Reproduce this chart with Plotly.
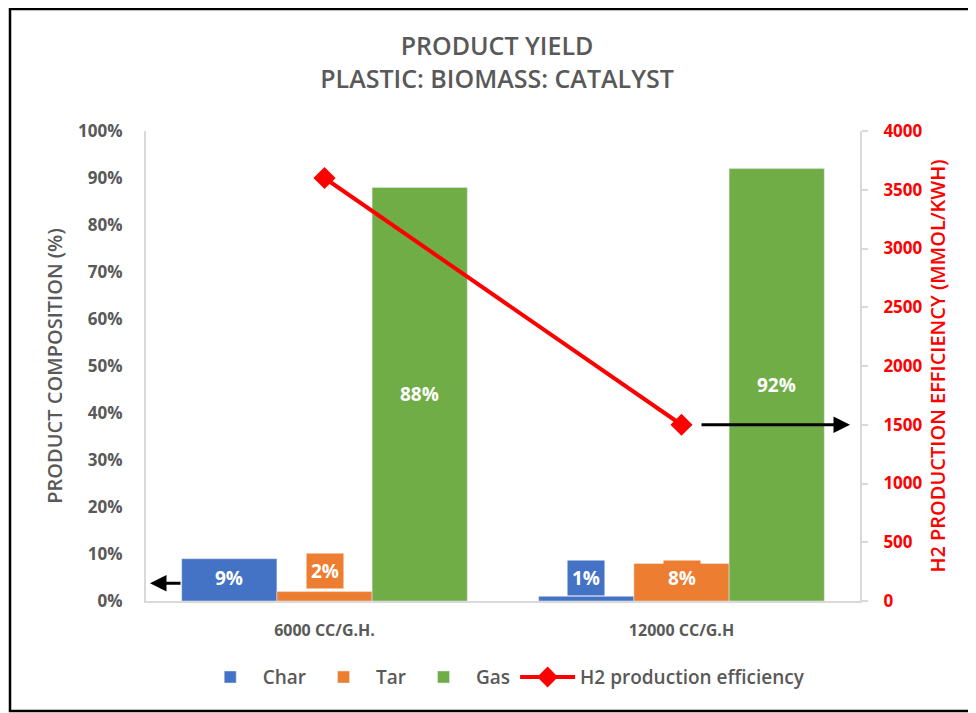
import plotly.graph_objects as go

categories = ["6000 CC/G.H.", "12000 CC/G.H"]
char_pct = [9, 1]
tar_pct = [2, 8]
gas_pct = [88, 92]
h2_eff = [3600, 1500]
pct_ticks = [0, 10, 20, 30, 40, 50, 60, 70, 80, 90, 100]
eff_ticks = [0, 500, 1000, 1500, 2000, 2500, 3000, 3500, 4000]

# label anchor heights (percent axis), as placed in the source chart
char_label_y = [4.9, 4.9]
tar_label_y = [6.4, 4.9]
gas_label_y = [44, 46]

BLUE = "#4472C4"
ORANGE = "#ED7D31"
GREEN = "#70AD47"
RED = "#FF0000"
GRAY = "#595959"
FONT = "Open Sans"

# page body has an 8px margin; the figure is sized to fit the window
W, H = 968, 705
L, R, T, B = 138, 116, 123, 112
pw, ph = W - L - R, H - T - B

fig = go.Figure()
fig.add_bar(x=categories, y=char_pct, name="Char", marker_color=BLUE, yaxis="y")
fig.add_bar(x=categories, y=tar_pct, name="Tar", marker_color=ORANGE, yaxis="y")
fig.add_bar(x=categories, y=gas_pct, name="Gas", marker_color=GREEN, yaxis="y")
fig.add_scatter(x=categories, y=h2_eff, name="H2 production efficiency", yaxis="y2",
                mode="lines+markers", line=dict(color=RED, width=4),
                marker=dict(symbol="diamond", size=17, color=RED))

annotations = []
offsets = [-1, 0, 1]
series = [(char_pct, char_label_y, BLUE), (tar_pct, tar_label_y, ORANGE), (gas_pct, gas_label_y, GREEN)]
bar_w = 0.8 / 3
for si, (vals, ly, col) in enumerate(series):
    for ci, v in enumerate(vals):
        annotations.append(dict(
            x=ci + offsets[si] * bar_w, y=ly[ci], xref="x", yref="y",
            text=f"<b>{v}%</b>", showarrow=False,
            font=dict(family=FONT, size=19, color="white"),
            bgcolor=col, borderpad=4))

# arrows pointing to the axes
annotations.append(dict(x=(142 - L) / pw, y=3.8, xref="paper", yref="y", ax=32, ay=0,
                        axref="pixel", ayref="pixel", text="", showarrow=True,
                        arrowhead=2, arrowsize=1.1, arrowwidth=3, arrowcolor="black"))
annotations.append(dict(x=(842 - L) / pw, y=1500, xref="paper", yref="y2", ax=-150, ay=0,
                        axref="pixel", ayref="pixel", text="", showarrow=True,
                        arrowhead=2, arrowsize=1.1, arrowwidth=3, arrowcolor="black"))

shapes = [dict(type="rect", xref="paper", yref="paper",
               x0=(2 - L) / pw, x1=(962 - L) / pw,
               y0=(H - B - 703) / ph, y1=(H - B - 1) / ph,
               line=dict(color="black", width=2.5), fillcolor="rgba(0,0,0,0)", layer="below")]

fig.update_layout(
    width=W, height=H, autosize=False,
    margin=dict(l=L, r=R, t=T, b=B),
    paper_bgcolor="white", plot_bgcolor="white",
    barmode="group", bargap=0.2, bargroupgap=0,
    title=dict(text="PRODUCT YIELD<br>PLASTIC: BIOMASS: CATALYST",
               x=489 / W, xanchor="center", y=1 - 47 / H, yanchor="top",
               font=dict(family=FONT, size=25, color=GRAY, weight=600)),
    xaxis=dict(showline=True, linecolor="#D9D9D9", linewidth=2, showgrid=False,
               ticks="", ticklabelstandoff=14,
               tickfont=dict(family=FONT, size=16, color=GRAY, weight="bold")),
    yaxis=dict(range=[0, 100], tickvals=pct_ticks, ticktext=[f"{t}%" for t in pct_ticks],
               showline=True, linecolor="#D9D9D9", linewidth=2, showgrid=False, zeroline=False,
               ticks="", ticklabelstandoff=18,
               tickfont=dict(family=FONT, size=17, color=GRAY, weight="bold"),
               title=dict(text="PRODUCT COMPOSITION (%)", standoff=10,
                          font=dict(family=FONT, size=20, color=GRAY, weight=600))),
    yaxis2=dict(range=[0, 4000], tickvals=eff_ticks, overlaying="y", side="right",
                showline=True, linecolor="#D9D9D9", linewidth=2, showgrid=False, zeroline=False,
                ticks="outside", ticklen=6, tickcolor="#D9D9D9", tickwidth=2,
                ticklabelstandoff=12,
                tickfont=dict(family=FONT, size=17, color=RED, weight="bold"),
                title=dict(text="H2 PRODUCTION EFFICIENCY (MMOL/KWH)", standoff=9,
                           font=dict(family=FONT, size=20, color=RED, weight=600))),
    legend=dict(orientation="h", x=0.501, xanchor="center", y=-0.162, yanchor="middle",
                font=dict(family=FONT, size=19, color=GRAY, weight=600), traceorder="normal",
                itemwidth=55),
    annotations=annotations,
    shapes=shapes,
)

fig.write_html("out.html")
